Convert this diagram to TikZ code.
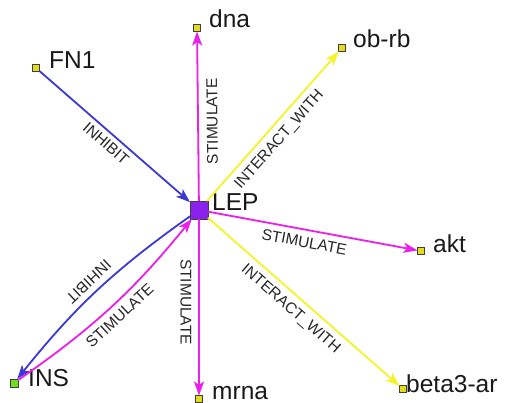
\documentclass[tikz,border=0pt]{standalone}
\usepackage{fontspec}
\setmainfont{Liberation Sans}
\usetikzlibrary{arrows.meta}
\definecolor{eblue}{RGB}{60,56,214}
\definecolor{emag}{RGB}{236,30,236}
\definecolor{eyel}{RGB}{244,244,40}
\definecolor{nyel}{RGB}{228,218,30}
\definecolor{ngreen}{RGB}{110,222,30}
\definecolor{npurp}{RGB}{138,32,236}
\begin{document}
\begin{tikzpicture}[x=1pt,y=-1pt,
  small/.style={draw=black!75, line width=0.8pt, fill=nyel, minimum size=7pt, inner sep=0pt, outer sep=0pt},
  big/.style={draw=black!75, line width=0.8pt, fill=npurp, minimum size=18pt, inner sep=0pt, outer sep=0pt},
  nm/.style={anchor=base west, font=\fontsize{24.5}{24.5}\selectfont, inner sep=0pt, text=black!90},
  edge/.style={line width=1.8pt, -{Stealth[length=14pt,width=10pt,inset=3.5pt]}},
  lab/.style={sloped, font=\fontsize{15.5}{15.5}\selectfont, inner sep=0pt, text height=11pt, text depth=0pt, text=black!85},
]
\useasboundingbox[fill=white] (0,0) rectangle (510,403);

\node[big] (LEP) at (199,210) {};
\node[small] (FN1) at (36,68) {};
\node[small] (dna) at (197,28) {};
\node[small] (obrb) at (342,48) {};
\node[small] (akt) at (421,251) {};
\node[small] (beta) at (403,389) {};
\node[small] (mrna) at (199,399) {};
\node[small, fill=ngreen, minimum size=8pt] (INS) at (14,383) {};

\node[nm] (tLEP) at (212,210) {LEP};
\node[nm] (tFN1) at (49,69) {FN1};
\node[nm] (tdna) at (209,28) {dna};
\node[nm] (tobrb) at (353,48) {ob-rb};
\node[nm] (takt) at (433,252) {akt};
\node[nm] (tbeta) at (406,392) {beta3-ar};
\node[nm] (tmrna) at (212,399) {mrna};
\node[nm] (tINS) at (28,386) {INS};

\draw[edge, eblue] (FN1) -- node[lab, pos=0.49, below=4.3pt] (l1) {INHIBIT} (LEP);
\draw[edge, emag] (LEP) -- node[lab, allow upside down, pos=0.47, below=7.6pt] (l2) {STIMULATE} (dna);
\draw[edge, eyel] (LEP) -- node[lab, pos=0.47, below=6pt] (l3) {INTERACT\_WITH} (obrb);
\draw[edge, emag] (LEP) -- node[lab, pos=0.47, below=5.7pt] (l4) {STIMULATE} (akt);
\draw[edge, eyel] (LEP) -- node[lab, pos=0.48, below=6.2pt] (l5) {INTERACT\_WITH} (beta);
\draw[edge, emag] (LEP) -- node[lab, pos=0.47, below=6.6pt] (l6) {STIMULATE} (mrna);
\draw[edge, eblue] (LEP) to[bend right=8] node[lab, allow upside down, pos=0.5, below=5.6pt] (l7) {INHIBIT} (INS);
\draw[edge, emag] (INS) to[bend right=8] node[lab, pos=0.5, below=5.6pt] (l8) {STIMULATE} (LEP);
\end{tikzpicture}
\end{document}
